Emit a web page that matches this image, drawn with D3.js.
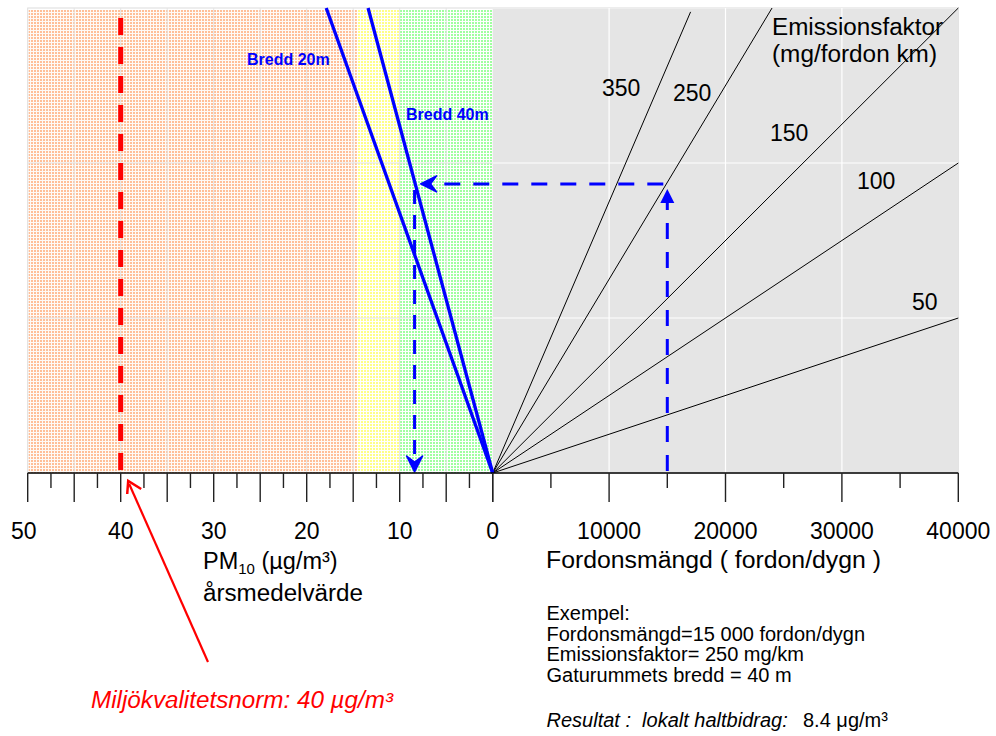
<!DOCTYPE html>
<html><head><meta charset="utf-8">
<script src="https://cdn.jsdelivr.net/npm/d3@7"></script>
<style>
body{margin:0;background:#fff}
text{font-family:"Liberation Sans",Arial,Helvetica,sans-serif}
</style>
</head><body>
<svg id="chart" width="996" height="736"></svg>
<script>
// ---------------- data ----------------
const pmTicks = [50, 40, 30, 20, 10, 0];              // PM10 µg/m3 labels (left axis)
const pmMajor = [50, 45, 40, 35, 30, 25, 20, 15, 10, 5, 0];
const pmMinor = [47.5, 42.5, 37.5, 32.5, 27.5, 22.5, 17.5, 12.5, 7.5, 2.5];
const trafficTicks = [10000, 20000, 30000, 40000];    // fordon/dygn labels (right axis)
const trafficMajor = [0, 10000, 20000, 30000, 40000];
const trafficMinor = [5000, 15000, 25000, 35000];
const emissionGrid = [2, 4];                           // kg/km/dygn
const emissionFactors = [350, 250, 150, 100, 50];      // mg/fordon km
const emissionLineEnd = [17000, 24000, 40000, 40000, 40000]; // traffic where each line stops
const widthNames = ["Bredd 20m", "Bredd 40m"];
const widthConcAtMax = [17.9, 13.4];                   // µg/m3 at emission 6 kg/km/dygn
const zoneFrom = [50, 14.6, 10];
const zoneTo = [14.6, 10, 0];
const zoneNames = ["orange", "yellow", "green"];
const normValue = 40;                                  // Miljökvalitetsnorm
const exampleTraffic = 15000;
const exampleEF = 250;
const exampleResult = 8.4;

// ---------------- scales ----------------
const svg = d3.select("#chart");
const xL = d3.scaleLinear().domain([50, 0]).range([27.7, 492.7]);
const xR = d3.scaleLinear().domain([0, 40000]).range([492.7, 958.3]);
const y = d3.scaleLinear().domain([0, 6]).range([473, 8]);
const emission = (n, ef) => n * ef / 1e6;

// ---------------- patterns ----------------
const defs = svg.append("defs");
const patCol = {orange: ["#fffaf6", "#ffbf98"], yellow: ["#ffffff", "#ffff88"], green: ["#ffffff", "#a0ffa0"]};
Object.entries(patCol).forEach(([k, [bg, fg]]) => {
  const p = defs.append("pattern").attr("id", "p-" + k).attr("patternUnits", "userSpaceOnUse")
    .attr("width", 3).attr("height", 3);
  p.append("rect").attr("width", 3).attr("height", 3).attr("fill", bg);
  p.append("rect").attr("x", 1).attr("y", 1).attr("width", 2).attr("height", 2).attr("fill", fg);
});

// ---------------- backgrounds ----------------
svg.append("rect").attr("x", xL(50)).attr("y", y(6)).attr("width", xR(40000) - xL(50)).attr("height", y(0) - y(6))
  .attr("fill", "none").attr("stroke", "#dcdcdc").attr("stroke-width", 1);
svg.selectAll("rect.zone").data(zoneNames).join("rect").attr("class", "zone")
  .attr("x", (d, i) => xL(zoneFrom[i]) + (i === 0 ? 1 : 0))
  .attr("y", y(6) + 2)
  .attr("width", (d, i) => xL(zoneTo[i]) - xL(zoneFrom[i]) - (i === 0 ? 1 : 0))
  .attr("height", y(0) - y(6) - 2)
  .attr("fill", d => "url(#p-" + d + ")");
svg.append("rect").attr("x", xR(0)).attr("y", y(6) + 1).attr("width", xR(40000) - xR(0)).attr("height", y(0) - y(6) - 1)
  .attr("fill", "#e5e5e5");

// ---------------- grid ----------------
const gL = svg.append("g");
gL.selectAll("line.v").data(pmMajor.filter(v => v !== 50 && v !== 0)).join("line")
  .attr("x1", d => xL(d)).attr("x2", d => xL(d)).attr("y1", y(6)).attr("y2", y(0))
  .attr("stroke", "#e4e4e4").attr("stroke-width", 1);
gL.selectAll("line.h").data(emissionGrid).join("line")
  .attr("x1", xL(50)).attr("x2", xL(0)).attr("y1", d => y(d)).attr("y2", d => y(d))
  .attr("stroke", "#e4e4e4").attr("stroke-width", 1);
const gR = svg.append("g");
gR.selectAll("line.v").data(trafficMajor.filter(v => v !== 0 && v !== 40000)).join("line")
  .attr("x1", d => xR(d)).attr("x2", d => xR(d)).attr("y1", y(6)).attr("y2", y(0))
  .attr("stroke", "#ffffff").attr("stroke-width", 1.2);
gR.selectAll("line.h").data(emissionGrid).join("line")
  .attr("x1", xR(0)).attr("x2", xR(40000)).attr("y1", d => y(d)).attr("y2", d => y(d))
  .attr("stroke", "#ffffff").attr("stroke-width", 1.2);

// ---------------- emission factor lines ----------------
svg.append("g").selectAll("line").data(emissionFactors).join("line")
  .attr("x1", xR(0)).attr("y1", y(0))
  .attr("x2", (d, i) => xR(emissionLineEnd[i]))
  .attr("y2", (d, i) => y(emission(emissionLineEnd[i], d)))
  .attr("stroke", "#000").attr("stroke-width", 1);

// ---------------- street width lines ----------------
svg.append("g").selectAll("line").data(widthConcAtMax).join("line")
  .attr("x1", xL(0)).attr("y1", y(0))
  .attr("x2", d => xL(d)).attr("y2", y(6))
  .attr("stroke", "#0000ff").attr("stroke-width", 3.3);

// ---------------- norm line ----------------
svg.append("line").attr("x1", xL(normValue)).attr("x2", xL(normValue))
  .attr("y1", y(5.87)).attr("y2", y(0))
  .attr("stroke", "#ff0000").attr("stroke-width", 5).attr("stroke-dasharray", "17,12");

// ---------------- example arrows ----------------
const eEx = emission(exampleTraffic, exampleEF);
const blue = "#0000ff";
const xT = xR(exampleTraffic), yE = y(eEx) + 1.5, xC = xL(exampleResult);
// vertical up arrow from traffic axis
svg.append("line").attr("x1", xT).attr("x2", xT).attr("y1", y(0) - 2).attr("y2", yE + 14)
  .attr("stroke", blue).attr("stroke-width", 3).attr("stroke-dasharray", "16,13");
svg.append("path").attr("d", `M${xT},${yE + 5} L${xT - 7},${yE + 19} L${xT + 7},${yE + 19} Z`).attr("fill", blue);
// horizontal arrow to the left
svg.append("line").attr("x1", xT - 4).attr("x2", xC + 14).attr("y1", yE).attr("y2", yE)
  .attr("stroke", blue).attr("stroke-width", 3).attr("stroke-dasharray", "16,13");
const tipH = xC + 6;
svg.append("path").attr("d", `M${tipH},${yE} L${tipH + 16},${yE - 8} L${tipH + 10},${yE} L${tipH + 16},${yE + 8} Z`)
  .attr("fill", blue).attr("stroke", blue).attr("stroke-width", 1.5).attr("stroke-linejoin", "round");
// vertical arrow down to PM axis
svg.append("line").attr("x1", xC).attr("x2", xC).attr("y1", yE + 6).attr("y2", y(0) - 8)
  .attr("stroke", blue).attr("stroke-width", 3).attr("stroke-dasharray", "14,11");
const tipV = y(0) - 1;
svg.append("path").attr("d", `M${xC},${tipV} L${xC - 8},${tipV - 16} L${xC},${tipV - 10} L${xC + 8},${tipV - 16} Z`)
  .attr("fill", blue).attr("stroke", blue).attr("stroke-width", 1.5).attr("stroke-linejoin", "round");

// ---------------- axes ----------------
const ax = svg.append("g");
ax.append("line").attr("x1", xL(50)).attr("x2", xR(40000)).attr("y1", y(0)).attr("y2", y(0))
  .attr("stroke", "#000").attr("stroke-width", 1.5);
ax.selectAll("line.lm").data(pmMajor).join("line")
  .attr("x1", d => xL(d)).attr("x2", d => xL(d)).attr("y1", y(0)).attr("y2", y(0) + 29)
  .attr("stroke", "#222").attr("stroke-width", 1.4);
ax.selectAll("line.ln").data(pmMinor).join("line")
  .attr("x1", d => xL(d)).attr("x2", d => xL(d)).attr("y1", y(0)).attr("y2", y(0) + 15)
  .attr("stroke", "#222").attr("stroke-width", 1.4);
ax.selectAll("line.rm").data(trafficMajor).join("line")
  .attr("x1", d => xR(d)).attr("x2", d => xR(d)).attr("y1", y(0)).attr("y2", y(0) + 29)
  .attr("stroke", "#222").attr("stroke-width", 1.4);
ax.selectAll("line.rn").data(trafficMinor).join("line")
  .attr("x1", d => xR(d)).attr("x2", d => xR(d)).attr("y1", y(0)).attr("y2", y(0) + 15)
  .attr("stroke", "#222").attr("stroke-width", 1.4);
ax.selectAll("text.lt").data(pmTicks).join("text")
  .attr("x", d => xL(d) - (d === 50 ? 4 : 0)).attr("y", 539).attr("text-anchor", "middle")
  .attr("font-size", 23).text(d => d);
ax.selectAll("text.rt").data(trafficTicks).join("text")
  .attr("x", d => xR(d)).attr("y", 539).attr("text-anchor", "middle")
  .attr("font-size", 23).text(d => d);

// axis titles
const pmT = svg.append("text").attr("x", 203).attr("y", 569).attr("font-size", 23.5);
pmT.append("tspan").text("PM");
pmT.append("tspan").attr("font-size", 15).attr("dy", 5).text("10");
pmT.append("tspan").attr("dy", -5).text(" (µg/m³)");
svg.append("text").attr("x", 203).attr("y", 601).attr("font-size", 23.5)
  .attr("textLength", 160).attr("lengthAdjust", "spacingAndGlyphs").text("årsmedelvärde");
svg.append("text").attr("x", 546).attr("y", 568).attr("font-size", 23.5)
  .attr("textLength", 335).attr("lengthAdjust", "spacingAndGlyphs").text("Fordonsmängd ( fordon/dygn )");

// emission factor labels
svg.append("text").attr("x", 772).attr("y", 35).attr("font-size", 23.5)
  .attr("textLength", 171).attr("lengthAdjust", "spacingAndGlyphs").text("Emissionsfaktor");
svg.append("text").attr("x", 772).attr("y", 62).attr("font-size", 23.5)
  .attr("textLength", 165).attr("lengthAdjust", "spacingAndGlyphs").text("(mg/fordon km)");
const efLabelPos = [[602, 96], [673, 101], [770, 141], [857, 189], [912, 310]];
svg.append("g").selectAll("text").data(emissionFactors).join("text")
  .attr("x", (d, i) => efLabelPos[i][0]).attr("y", (d, i) => efLabelPos[i][1])
  .attr("font-size", 23).text(d => d);

// width labels
const wLabelPos = [[247, 65], [406, 120]];
svg.append("g").selectAll("text").data(widthNames).join("text")
  .attr("x", (d, i) => wLabelPos[i][0]).attr("y", (d, i) => wLabelPos[i][1])
  .attr("font-size", 16).attr("font-weight", "bold").attr("fill", blue).text(d => d);

// red norm annotation
const tipX = xL(normValue) + 7.5, tipY = y(0) + 8;
svg.append("line").attr("x1", 208).attr("y1", 662).attr("x2", tipX + 1).attr("y2", tipY + 3)
  .attr("stroke", "#ff0000").attr("stroke-width", 2.2);
svg.append("path").attr("d", `M${tipX - 1},${tipY + 13} L${tipX},${tipY} L${tipX + 13},${tipY + 8}`)
  .attr("fill", "none").attr("stroke", "#ff0000").attr("stroke-width", 2.5).attr("stroke-linejoin", "miter");
svg.append("text").attr("x", 91).attr("y", 708).attr("font-size", 23).attr("font-style", "italic")
  .attr("fill", "#ff0000").attr("textLength", 302).attr("lengthAdjust", "spacingAndGlyphs")
  .text("Miljökvalitetsnorm: " + normValue + " µg/m³");

// example text
const exLines = ["Exempel:", "Fordonsmängd=15 000 fordon/dygn", "Emissionsfaktor= " + exampleEF + " mg/km", "Gaturummets bredd = 40 m"];
svg.append("g").selectAll("text").data(exLines).join("text")
  .attr("x", 546.5).attr("y", (d, i) => 620 + i * 20.7).attr("font-size", 20).text(d => d);
svg.append("text").attr("x", 546.5).attr("y", 726.5).attr("font-size", 20).attr("font-style", "italic")
  .text("Resultat :  lokalt haltbidrag:").attr("xml:space", "preserve");
svg.append("text").attr("x", 803).attr("y", 726.5).attr("font-size", 20).text(exampleResult + " μg/m³");
</script>
</body></html>
